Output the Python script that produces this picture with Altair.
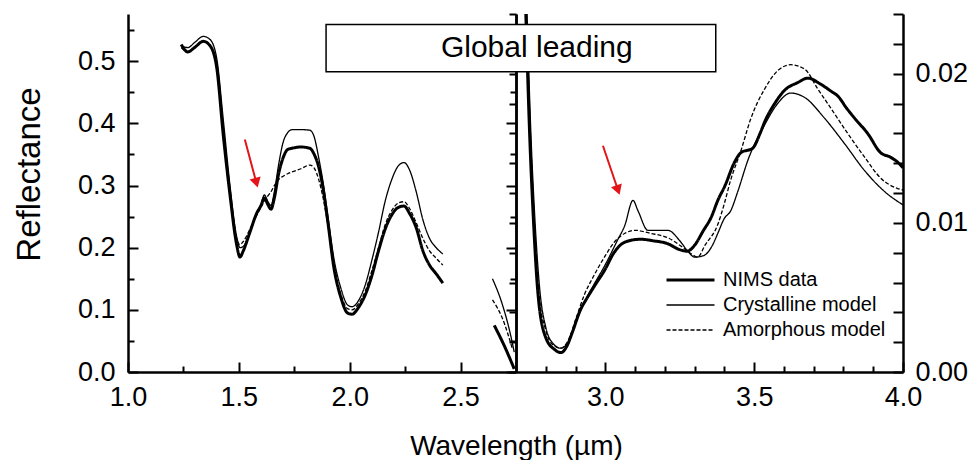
import altair as alt
import pandas as pd

FONT = "Liberation Sans"
series_names = ["NIMS data", "Crystalline model", "Amorphous model"]

# ---------------- left panel: 1.0 - 2.75 um, left reflectance axis ----------------
wl_left = [1.24, 1.27, 1.30, 1.34, 1.37, 1.40, 1.43, 1.46, 1.49, 1.505, 1.52, 1.55, 1.58, 1.60,
           1.615, 1.63, 1.645, 1.66, 1.68, 1.70, 1.72, 1.74, 1.78, 1.82, 1.84, 1.86, 1.88, 1.90,
           1.93, 1.96, 1.99, 2.01, 2.04, 2.07, 2.10, 2.13, 2.16, 2.19, 2.22, 2.245, 2.27, 2.30,
           2.33, 2.36, 2.39, 2.42]
nims_left = [0.527, 0.515, 0.522, 0.532, 0.525, 0.49, 0.38, 0.285, 0.205, 0.185, 0.195, 0.225,
             0.255, 0.268, 0.28, 0.27, 0.262, 0.28, 0.32, 0.345, 0.358, 0.36, 0.362, 0.36, 0.35,
             0.33, 0.295, 0.245, 0.165, 0.12, 0.095, 0.093, 0.104, 0.124, 0.155, 0.195, 0.23,
             0.253, 0.265, 0.267, 0.255, 0.232, 0.195, 0.172, 0.158, 0.143]
cryst_left = [0.525, 0.522, 0.53, 0.54, 0.535, 0.505, 0.405, 0.30, 0.218, 0.2, 0.202, 0.225,
              0.255, 0.27, 0.285, 0.275, 0.268, 0.29, 0.335, 0.37, 0.385, 0.39, 0.39, 0.389,
              0.378, 0.345, 0.305, 0.255, 0.18, 0.135, 0.108, 0.105, 0.115, 0.14, 0.18, 0.225,
              0.275, 0.31, 0.332, 0.337, 0.325, 0.29, 0.245, 0.215, 0.2, 0.19]
amorph_left = [0.522, 0.515, 0.522, 0.533, 0.525, 0.49, 0.39, 0.29, 0.215, 0.205, 0.21, 0.23,
               0.252, 0.265, 0.275, 0.283, 0.29, 0.3, 0.31, 0.315, 0.319, 0.322, 0.327, 0.333,
               0.328, 0.31, 0.28, 0.24, 0.17, 0.125, 0.102, 0.1, 0.11, 0.13, 0.163, 0.2, 0.237,
               0.26, 0.272, 0.274, 0.263, 0.24, 0.215, 0.195, 0.183, 0.172]

# short pieces just before the break (left axis)
wl_tail_nims = [2.652, 2.700, 2.742]
nims_tail = [0.075, 0.040, 0.005]
wl_tail_cryst = [2.644, 2.689, 2.726, 2.742]
cryst_tail = [0.150, 0.108, 0.059, 0.032]
wl_tail_amorph = [2.644, 2.689, 2.734]
amorph_tail = [0.116, 0.086, 0.037]

# ---------------- right panel: 2.7 - 4.0 um, right axis ----------------
wl_r_nims = [2.733, 2.747, 2.757, 2.774, 2.80, 2.83, 2.851, 2.87, 2.89, 2.915, 2.94, 2.968,
             3.0, 3.026, 3.05, 3.08, 3.12, 3.16, 3.21, 3.25, 3.275, 3.30, 3.33, 3.354, 3.38, 3.40,
             3.435, 3.455, 3.495, 3.52, 3.536, 3.569, 3.603, 3.646, 3.68, 3.723, 3.76, 3.781,
             3.81, 3.838, 3.881, 3.925, 3.958, 3.98, 4.0]
nims_right = [0.024, 0.0153, 0.0108, 0.0052, 0.0023, 0.0015, 0.0013, 0.0017, 0.0027,
              0.0041, 0.0050, 0.0059, 0.0069, 0.0079, 0.0085, 0.0088, 0.0089, 0.0088, 0.0086,
              0.0082, 0.0081, 0.0085, 0.0095, 0.0103, 0.0116, 0.0124, 0.0141, 0.0147, 0.0150,
              0.0160, 0.0168, 0.0180, 0.0189, 0.0194, 0.0197, 0.0193, 0.0188, 0.0185, 0.0177,
              0.0170, 0.0160, 0.0147, 0.0144, 0.0141, 0.0137]
wl_r_cryst = [2.737, 2.75, 2.762, 2.78, 2.80, 2.825, 2.85, 2.875, 2.90, 2.93, 2.96, 3.0,
              3.04, 3.065, 3.093, 3.11, 3.143, 3.21, 3.25, 3.277, 3.30, 3.33, 3.36, 3.378, 3.40,
              3.421, 3.445, 3.479, 3.536, 3.579, 3.623, 3.67, 3.737, 3.804, 3.871, 3.938, 4.0]
cryst_right = [0.024, 0.016, 0.0108, 0.0055, 0.0030, 0.0019, 0.0016, 0.0020, 0.0033,
               0.0047, 0.0058, 0.0072, 0.0088, 0.0098, 0.0115, 0.0108, 0.0095, 0.0095, 0.0088,
               0.0081, 0.0077, 0.0078, 0.0085, 0.0093, 0.0103, 0.0108, 0.0121, 0.0142, 0.0166,
               0.0180, 0.0187, 0.0184, 0.0170, 0.0153, 0.0135, 0.0121, 0.0112]
wl_r_amorph = [2.735, 2.749, 2.76, 2.777, 2.80, 2.825, 2.85, 2.875, 2.90, 2.93, 2.96, 3.0,
               3.03, 3.066, 3.10, 3.15, 3.21, 3.27, 3.29, 3.31, 3.335, 3.378, 3.40, 3.42, 3.455,
               3.489, 3.536, 3.579, 3.623, 3.67, 3.713, 3.757, 3.814, 3.871, 3.925, 3.982, 4.0]
amorph_right = [0.024, 0.0155, 0.0108, 0.0053, 0.0028, 0.0018, 0.0016, 0.0021, 0.0035,
                0.0052, 0.0064, 0.0078, 0.0087, 0.0093, 0.0095, 0.0093, 0.0090, 0.0082, 0.0079,
                0.0077, 0.0085, 0.0099, 0.0113, 0.0128, 0.0148, 0.0170, 0.0190, 0.0202, 0.0206,
                0.0203, 0.0190, 0.0177, 0.0160, 0.0144, 0.0130, 0.0123, 0.0122]

# axis tick values
left_x_ticks = [1.0, 1.25, 1.5, 1.75, 2.0, 2.25, 2.5]
right_x_ticks = [2.8, 2.9, 3.0, 3.1, 3.2, 3.3, 3.4, 3.5, 3.6, 3.7, 3.8, 3.9, 4.0]
left_y_ticks = [0.0, 0.05, 0.1, 0.15, 0.2, 0.25, 0.3, 0.35, 0.4, 0.45, 0.5, 0.55]
right_y_ticks = [0.0, 0.002, 0.004, 0.006, 0.008, 0.01, 0.012, 0.014, 0.016, 0.018, 0.02, 0.022, 0.024]

# annotations
arrow_left = {"wl": [1.527], "val": [0.374], "wl2": [1.579], "val2": [0.3045], "angle": [345]}
arrow_right = {"wl": [2.992], "val": [0.01517], "wl2": [3.0426], "val2": [0.0122], "angle": [341]}
box_right = {"wl": [2.062], "wl2": [3.371], "val": [0.02013], "val2": [0.02329]}
box_text = {"wl": [2.77], "val": [0.02171], "label": ["Global leading"]}


def rows(wls, vals, name, seg):
    return [{"wl": w, "val": v, "series": name, "seg": seg} for w, v in zip(wls, vals)]


left_df = pd.DataFrame(
    rows(wl_left, nims_left, "NIMS data", "n1") + rows(wl_left, cryst_left, "Crystalline model", "c1")
    + rows(wl_left, amorph_left, "Amorphous model", "a1")
    + rows(wl_tail_nims, nims_tail, "NIMS data", "n2")
    + rows(wl_tail_cryst, cryst_tail, "Crystalline model", "c2")
    + rows(wl_tail_amorph, amorph_tail, "Amorphous model", "a2"))
right_df = pd.DataFrame(
    rows(wl_r_nims, nims_right, "NIMS data", "n3") + rows(wl_r_cryst, cryst_right, "Crystalline model", "c3")
    + rows(wl_r_amorph, amorph_right, "Amorphous model", "a3"))

xs_left = alt.Scale(domain=[1.0, 2.75], nice=False, zero=False)
ys_left = alt.Scale(domain=[0, 0.576], nice=False, zero=False)
xs_right = alt.Scale(domain=[2.7, 4.0], nice=False, zero=False)
ys_right = alt.Scale(domain=[0, 0.024], nice=False, zero=False)

major_half = "abs(datum.value*2 - round(datum.value*2)) < 0.001"
major_tenth = "abs(datum.value*10 - round(datum.value*10)) < 0.001"
major_cent = "abs(datum.value*100 - round(datum.value*100)) < 0.001"

common_axis = dict(grid=False, domain=True, domainColor="black", domainWidth=2.5, tickColor="black",
                   tickWidth=2, labelColor="black", labelFont=FONT,
                   labelOverlap=False, labelBound=False, labelFlush=False)

legend_cfg = alt.Legend(orient="none", legendX=149, legendY=256, title=None, symbolType="stroke",
                        symbolSize=2304, clipHeight=20, rowPadding=5, labelOffset=7,
                        labelFontSize=20, labelFont=FONT, labelColor="black", labelLimit=400,
                        symbolStrokeColor="black", padding=0)


def series_enc(legend):
    return dict(
        strokeDash=alt.StrokeDash("series:N", scale=alt.Scale(domain=series_names,
                                  range=[[1, 0], [1, 0], [4, 2]]), legend=legend),
        strokeWidth=alt.StrokeWidth("series:N", scale=alt.Scale(type="ordinal", domain=series_names,
                                    range=[3.0, 1.3, 1.3]), legend=legend),
        detail="seg:N",
    )


# ---------------- left panel ----------------
left_lines = alt.Chart(left_df).mark_line(color="black", interpolate="monotone").encode(
    x=alt.X("wl:Q", scale=xs_left, axis=alt.Axis(
        orient="bottom", values=left_x_ticks,
        labelExpr=f"{major_half} ? format(datum.value, '.1f') : ''",
        labelFontSize=alt.ExprRef(f"{major_half} ? 27 : 0"),
        tickSize=alt.ExprRef(f"{major_half} ? -10 : -6"), labelPadding=22,
        title="Wavelength (µm)", titleFont=FONT, titleFontSize=28, titleFontWeight="normal",
        titleColor="black", titleX=388, titleY=82, titleAlign="center", titleBaseline="alphabetic",
        **common_axis)),
    y=alt.Y("val:Q", scale=ys_left, axis=alt.Axis(
        orient="left", values=left_y_ticks,
        labelExpr=f"{major_tenth} ? format(datum.value, '.1f') : ''",
        labelFontSize=alt.ExprRef(f"{major_tenth} ? 27 : 0"),
        tickSize=alt.ExprRef(f"{major_tenth} ? -10 : -6"), labelPadding=23,
        title="Reflectance", titleFont=FONT, titleFontSize=33, titleFontWeight="normal",
        titleColor="black", titlePadding=31, titleY=160, titleAlign="center", **common_axis)),
    **series_enc(None),
)

left_arrow_shaft = alt.Chart(pd.DataFrame(arrow_left)).mark_rule(color="#e3151b", strokeWidth=2).encode(
    x=alt.X("wl:Q", scale=xs_left, axis=None),
    x2="wl2:Q",
    y=alt.Y("val:Q", scale=ys_left, axis=alt.Axis(
        orient="right", values=left_y_ticks, labels=False, title=None,
        tickSize=alt.ExprRef(f"{major_tenth} ? -10 : -6"), **common_axis)),
    y2="val2:Q",
)
left_arrow_head = alt.Chart(pd.DataFrame(arrow_left)).mark_point(
    shape="triangle-down", filled=True, color="#e3151b", size=130, opacity=1).encode(
    x=alt.X("wl2:Q", scale=xs_left, axis=None),
    y=alt.Y("val2:Q", scale=ys_left, axis=None),
    angle=alt.Angle("angle:Q", scale=None),
)

left_panel = alt.layer(left_lines, left_arrow_shaft, left_arrow_head).resolve_axis(
    x="independent", y="independent").properties(width=388, height=358)

# ---------------- right panel ----------------
right_lines = alt.Chart(right_df).mark_line(color="black", interpolate="monotone", clip=True).encode(
    x=alt.X("wl:Q", scale=xs_right, axis=alt.Axis(
        orient="bottom", values=right_x_ticks,
        labelExpr=f"{major_half} ? format(datum.value, '.1f') : ''",
        labelFontSize=alt.ExprRef(f"{major_half} ? 27 : 0"),
        tickSize=alt.ExprRef(f"{major_half} ? -10 : -6"), labelPadding=22, title=None,
        **common_axis)),
    y=alt.Y("val:Q", scale=ys_right, axis=alt.Axis(
        orient="right", values=right_y_ticks,
        labelExpr=f"{major_cent} ? format(datum.value, '.2f') : ''",
        labelFontSize=alt.ExprRef(f"{major_cent} ? 27 : 0"),
        tickSize=alt.ExprRef("-10"), labelPadding=22, title=None, **common_axis)),
    **series_enc(legend_cfg),
)

right_arrow_shaft = alt.Chart(pd.DataFrame(arrow_right)).mark_rule(color="#e3151b", strokeWidth=2).encode(
    x=alt.X("wl:Q", scale=xs_right, axis=None),
    x2="wl2:Q",
    y=alt.Y("val:Q", scale=ys_right, axis=alt.Axis(
        orient="left", values=right_y_ticks, labels=False, title=None, tickSize=7, **common_axis)),
    y2="val2:Q",
)
right_arrow_head = alt.Chart(pd.DataFrame(arrow_right)).mark_point(
    shape="triangle-down", filled=True, color="#e3151b", size=130, opacity=1).encode(
    x=alt.X("wl2:Q", scale=xs_right, axis=None),
    y=alt.Y("val2:Q", scale=ys_right, axis=None),
    angle=alt.Angle("angle:Q", scale=None),
)

box = alt.Chart(pd.DataFrame(box_right)).mark_rect(
    fill="white", stroke="black", strokeWidth=1.5, clip=False).encode(
    x=alt.X("wl:Q", scale=xs_right, axis=None), x2="wl2:Q",
    y=alt.Y("val:Q", scale=ys_right, axis=None), y2="val2:Q",
)
box_label = alt.Chart(pd.DataFrame(box_text)).mark_text(
    font=FONT, fontSize=30, color="black", align="center", baseline="middle").encode(
    x=alt.X("wl:Q", scale=xs_right, axis=None),
    y=alt.Y("val:Q", scale=ys_right, axis=None),
    text="label:N",
)

right_panel = alt.layer(right_lines, right_arrow_shaft, right_arrow_head, box, box_label).resolve_axis(
    x="independent", y="independent").properties(width=387, height=358)

chart = alt.hconcat(left_panel, right_panel, spacing=0, bounds="flush").resolve_scale(
    strokeDash="independent", strokeWidth="independent").properties(
    padding={"left": 5, "top": 5, "right": 0, "bottom": 0}).configure_view(stroke=None)

chart.save("out.html", embed_options={"renderer": "svg", "actions": False})
